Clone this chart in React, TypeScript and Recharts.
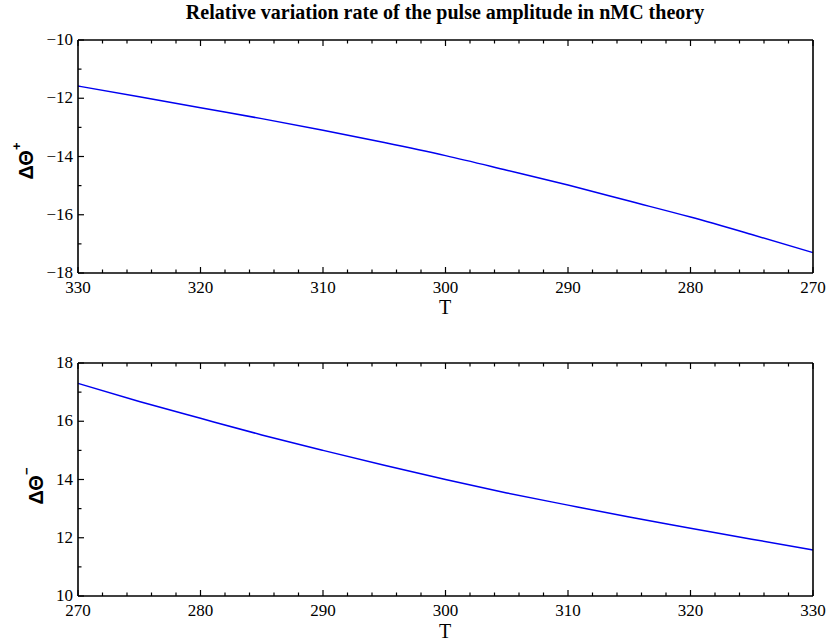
import React from 'react';
import { LineChart, Line, XAxis, YAxis } from 'recharts';

// temperature samples and the two branches
const T_VALUES = [270, 275, 280, 285, 290, 295, 300, 305, 310, 315, 320, 325, 330];
const THETA_PLUS = [-17.3, -16.68, -16.08, -15.53, -14.98, -14.47, -13.97, -13.52, -13.1, -12.7, -12.33, -11.95, -11.58];
const THETA_MINUS = [17.3, 16.68, 16.1, 15.53, 15.0, 14.49, 14.0, 13.54, 13.12, 12.71, 12.33, 11.95, 11.58];

const X_MAJOR = [270, 280, 290, 300, 310, 320, 330];
const Y_MAJOR_PLUS = [-18, -16, -14, -12, -10];
const Y_MAJOR_MINUS = [10, 12, 14, 16, 18];

const TITLE = 'Relative variation rate of the pulse amplitude in nMC theory';

const W = 829;
const SERIF = '"Liberation Serif", "DejaVu Serif", serif';
const SANS = '"Liberation Sans", Arial, sans-serif';

function steps(from: number, to: number, step: number) {
  const out: number[] = [];
  for (let v = from; v <= to + 1e-9; v += step) out.push(Math.round(v * 100) / 100);
  return out;
}

const X_TICKS = steps(270, 330, 2);
const Y_TICKS_PLUS = steps(-18, -10, 1);
const Y_TICKS_MINUS = steps(10, 18, 1);

const fmt = (v: number) => (v < 0 ? `\u2212${-v}` : `${v}`);

type Side = 'bottom' | 'top' | 'left' | 'right';

function makeTick(side: Side, majors: number[], showLabel: boolean) {
  return (props: any) => {
    const { x, y, payload } = props;
    const v = payload.value;
    const major = majors.includes(v);
    const len = major ? 6 : 3.5;
    let line;
    if (side === 'bottom') line = <line x1={x} x2={x} y1={y} y2={y - len} />;
    else if (side === 'top') line = <line x1={x} x2={x} y1={y} y2={y + len} />;
    else if (side === 'left') line = <line x1={x} x2={x + len} y1={y} y2={y} />;
    else line = <line x1={x} x2={x - len} y1={y} y2={y} />;
    return (
      <g stroke="#000" strokeWidth={1.2}>
        {line}
        {showLabel && major && side === 'bottom' && (
          <text x={x} y={y + 20} textAnchor="middle" fontFamily={SERIF} fontSize={17} fill="#000" stroke="none">
            {fmt(v)}
          </text>
        )}
        {showLabel && major && side === 'left' && (
          <text x={x - 5} y={y + 5} textAnchor="end" fontFamily={SERIF} fontSize={17} fill="#000" stroke="none">
            {fmt(v)}
          </text>
        )}
      </g>
    );
  };
}

interface PanelProps {
  data: { t: number; v: number }[];
  yDomain: [number, number];
  yTicks: number[];
  yMajor: number[];
  reversed: boolean;
  height: number;
  marginTop: number;
  sup: string;
  labelX: number;
  labelY: number;
  tY: number;
}

function Panel({ data, yDomain, yTicks, yMajor, reversed, height, marginTop, sup, labelX, labelY, tY }: PanelProps) {
  const axisLine = { stroke: '#000', strokeWidth: 1.6 };
  return (
    <LineChart width={W} height={height} data={data} margin={{ top: marginTop, right: 6, bottom: 17, left: 28 }}>
      <XAxis
        dataKey="t"
        type="number"
        domain={[270, 330]}
        ticks={X_TICKS}
        interval={0}
        reversed={reversed}
        height={30}
        tickSize={0}
        tickMargin={0}
        axisLine={axisLine}
        tick={makeTick('bottom', X_MAJOR, true)}
        label={{
          content: () => (
            <text x={445} y={tY} textAnchor="middle" fontFamily={SERIF} fontSize={20} fill="#000">
              T
            </text>
          ),
        }}
      />
      <XAxis
        xAxisId="top"
        orientation="top"
        dataKey="t"
        type="number"
        domain={[270, 330]}
        ticks={X_TICKS}
        interval={0}
        reversed={reversed}
        height={10}
        tickSize={0}
        tickMargin={0}
        axisLine={axisLine}
        tick={makeTick('top', X_MAJOR, false)}
      />
      <YAxis
        type="number"
        domain={yDomain}
        ticks={yTicks}
        interval={0}
        width={50}
        tickSize={0}
        tickMargin={0}
        axisLine={axisLine}
        tick={makeTick('left', yMajor, true)}
        label={{
          content: () => (
            <text
              transform={`translate(${labelX},${labelY}) rotate(-90)`}
              textAnchor="middle"
              fontFamily={SANS}
              fontWeight="bold"
              fontSize={20}
              fill="#000"
            >
              {'\u0394\u0398'}
              <tspan dy={-12} fontSize={13}>
                {sup}
              </tspan>
            </text>
          ),
        }}
      />
      <YAxis
        yAxisId="right"
        orientation="right"
        type="number"
        domain={yDomain}
        ticks={yTicks}
        interval={0}
        width={10}
        tickSize={0}
        tickMargin={0}
        axisLine={axisLine}
        tick={makeTick('right', yMajor, false)}
      />
      <Line
        type="monotone"
        dataKey="v"
        stroke="#0000f0"
        strokeWidth={1.5}
        dot={false}
        isAnimationActive={false}
      />
    </LineChart>
  );
}

export default function App() {
  const plusData = T_VALUES.map((t, i) => ({ t, v: THETA_PLUS[i] }));
  const minusData = T_VALUES.map((t, i) => ({ t, v: THETA_MINUS[i] }));

  return (
    <div style={{ position: 'absolute', left: 0, top: 0, width: W, height: 643, background: '#fff' }}>
      <div
        style={{
          position: 'absolute',
          left: 0,
          top: 0,
          width: 890,
          textAlign: 'center',
          fontFamily: SERIF,
          fontWeight: 'bold',
          fontSize: 20,
          lineHeight: '24px',
        }}
      >
        {TITLE}
      </div>
      <div style={{ position: 'absolute', left: 0, top: 0 }}>
        <Panel
          data={plusData}
          yDomain={[-18, -10]}
          yTicks={Y_TICKS_PLUS}
          yMajor={Y_MAJOR_PLUS}
          reversed
          height={320}
          marginTop={30}
          sup="+"
          labelX={33}
          labelY={161}
          tY={314}
        />
      </div>
      <div style={{ position: 'absolute', left: 0, top: 320 }}>
        <Panel
          data={minusData}
          yDomain={[10, 18]}
          yTicks={Y_TICKS_MINUS}
          yMajor={Y_MAJOR_MINUS}
          reversed={false}
          height={323}
          marginTop={33}
          sup={'\u2212'}
          labelX={43}
          labelY={166}
          tY={318}
        />
      </div>
    </div>
  );
}
